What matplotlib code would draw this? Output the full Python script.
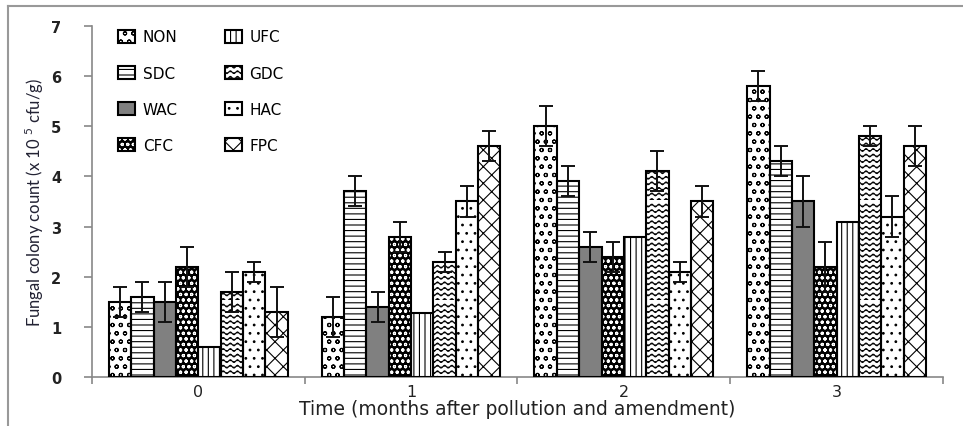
import matplotlib

matplotlib.use("Agg")
import matplotlib.hatch as mhatch
import matplotlib.pyplot as plt
import numpy as np
from matplotlib.legend_handler import HandlerTuple
from matplotlib.lines import Line2D
from matplotlib.path import Path

# months after pollution / amendment
months = ["0", "1", "2", "3"]

# bar order inside each group (legend is filled column by column)
treatments = ["NON", "SDC", "WAC", "CFC", "UFC", "GDC", "HAC", "FPC"]

means = {
    "NON": [1.5, 1.2, 5.0, 5.8],
    "SDC": [1.6, 3.7, 3.9, 4.3],
    "WAC": [1.5, 1.4, 2.6, 3.5],
    "CFC": [2.2, 2.8, 2.4, 2.2],
    "UFC": [0.6, 1.27, 2.8, 3.1],
    "GDC": [1.7, 2.3, 4.1, 4.8],
    "HAC": [2.1, 3.5, 2.1, 3.2],
    "FPC": [1.3, 4.6, 3.5, 4.6],
}
errors = {
    "NON": [0.3, 0.4, 0.4, 0.3],
    "SDC": [0.3, 0.3, 0.3, 0.3],
    "WAC": [0.4, 0.3, 0.3, 0.5],
    "CFC": [0.4, 0.3, 0.3, 0.5],
    "UFC": None,  # no error bars drawn for UFC
    "GDC": [0.4, 0.2, 0.4, 0.2],
    "HAC": [0.2, 0.3, 0.2, 0.4],
    "FPC": [0.5, 0.3, 0.3, 0.4],
}


class WaveHatch(mhatch.HatchPatternBase):
    """Wavy horizontal lines, bound to the '*' hatch character."""

    def __init__(self, hatch, density):
        self.num_lines = int(hatch.count("*") * density)
        self.steps = 96
        self.num_vertices = self.num_lines * (self.steps + 1)

    def set_vertices_and_codes(self, vertices, codes):
        t = np.linspace(0.0, 1.0, self.steps + 1)
        n = self.steps + 1
        for i, y0 in enumerate(np.linspace(0.0, 1.0, self.num_lines, endpoint=False)):
            vertices[i * n:(i + 1) * n, 0] = t
            vertices[i * n:(i + 1) * n, 1] = y0 + 0.014 * np.sin(2 * np.pi * 14 * t)
            codes[i * n] = Path.MOVETO
            codes[i * n + 1:(i + 1) * n] = Path.LINETO


mhatch._hatch_types = [h for h in mhatch._hatch_types if h is not mhatch.Stars]
mhatch._hatch_types.append(WaveHatch)

styles = {
    "NON": dict(face="white", hatch="oo", hcolor="black"),
    "SDC": dict(face="white", hatch="---", hcolor="black"),
    "WAC": dict(face="#808080", hatch=None, hcolor="black"),
    "CFC": dict(face="black", hatch="ooo", hcolor="white"),
    "UFC": dict(face="white", hatch="|||", hcolor="black"),
    "GDC": dict(face="white", hatch="***", hcolor="black"),
    "HAC": dict(face="white", hatch="..", hcolor="black"),
    "FPC": dict(face="white", hatch="xx", hcolor="black"),
}

plt.rcParams["hatch.linewidth"] = 0.8
plt.rcParams["mathtext.fontset"] = "custom"
plt.rcParams["mathtext.rm"] = "Lato"

fig = plt.figure(figsize=(9.63, 4.27), dpi=100)
ax = fig.add_axes([0.0955, 0.1148, 0.8837, 0.822])

x = np.arange(len(months))
width = 0.105
handles = []
for j, name in enumerate(treatments):
    st = styles[name]
    pos = x + (j - 3.5) * width
    fill = ax.bar(pos, means[name], width, color=st["face"], hatch=st["hatch"],
                  edgecolor=st["hcolor"], linewidth=0, zorder=2)
    outline = ax.bar(pos, means[name], width, fill=False, edgecolor="black",
                     linewidth=1.5, zorder=3)
    if errors[name] is not None:
        ax.errorbar(pos, means[name], yerr=errors[name], fmt="none",
                    ecolor="#111111", elinewidth=1.4, capsize=5, capthick=1.4,
                    zorder=4)
    handles.append((fill[0], outline[0]))

ax.set_xlim(-0.5, 3.5)
ax.set_ylim(0, 7)
ax.set_yticks(range(0, 8))
ax.set_yticklabels([str(v) for v in range(0, 8)], fontsize=10.5,
                   fontweight="bold", family="DejaVu Sans", color="#222222")
ax.set_xticks(x)
ax.set_xticklabels(months, fontsize=11.5, family="DejaVu Sans", color="#222222")
ax.set_xticks(np.arange(-0.5, 4.0, 1.0), minor=True)
ax.tick_params(axis="x", which="major", length=0, pad=5)
ax.tick_params(axis="x", which="minor", length=5, color="#888888", width=1.2)
ax.tick_params(axis="y", length=6, color="#888888", width=1.2, pad=16)

for side in ("top", "right"):
    ax.spines[side].set_visible(False)
for side in ("left", "bottom"):
    ax.spines[side].set_color("#888888")
    ax.spines[side].set_linewidth(1.2)

ax.set_xlabel("Time (months after pollution and amendment)", fontsize=13.5,
              family="DejaVu Sans", color="#222222", labelpad=0)
ax.set_ylabel(r"Fungal colony count (x 10 $^{5}$ cfu/g)", fontsize=12,
              family="Lato", color="#222233", labelpad=4)

ax.legend(handles, treatments, ncol=2, loc="upper left",
          bbox_to_anchor=(0.031, 0.99), frameon=False, borderpad=0,
          borderaxespad=0, handlelength=1.1, handleheight=0.9,
          handletextpad=0.5, labelspacing=1.38, columnspacing=3.1,
          handler_map={tuple: HandlerTuple(ndivide=1)},
          prop={"family": "DejaVu Sans", "size": 11})

# outer frame of the original figure (cropped at right and bottom)
fig.add_artist(Line2D([8 / 963, 8 / 963], [0, 1 - 7 / 427],
                      transform=fig.transFigure, color="#999999", lw=1.5))
fig.add_artist(Line2D([8 / 963, 1], [1 - 7 / 427, 1 - 7 / 427],
                      transform=fig.transFigure, color="#999999", lw=1.5))

fig.savefig("out.png", dpi=100)
plt.close(fig)
